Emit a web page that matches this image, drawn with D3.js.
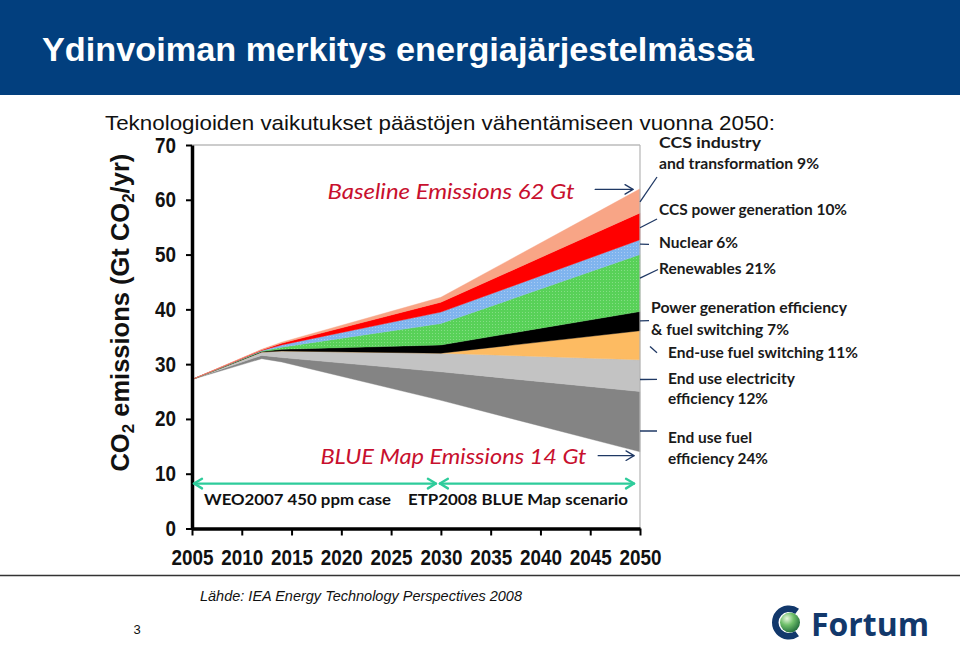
<!DOCTYPE html>
<html>
<head>
<meta charset="utf-8">
<script src="https://cdn.jsdelivr.net/npm/d3@7"></script>
<style>
  html, body { margin: 0; padding: 0; background: #fff; }
  svg { display: block; }
</style>
</head>
<body>
<svg id="chart" width="960" height="645"></svg>
<script>
// ---------------- DATA ----------------
const years = [2005, 2012, 2014, 2030, 2050];
const blueMapEmissions = [27.2, 31.0, 30.4, 23.4, 14.0];          // bottom line (Gt CO2/yr)
// wedge thicknesses, bottom to top (Gt CO2/yr)
const endUseFuelEfficiency   = [0, 0.6, 0.8, 5.2, 11.0];
const endUseElecEfficiency   = [0, 0.6, 1.2, 3.4, 5.8];
const endUseFuelSwitching    = [0, 0.0, 0.0, 0.0, 5.3];
const powerGenEfficiency     = [0, 0.1, 0.3, 1.5, 3.5];
const renewables             = [0, 0.1, 0.4, 3.9, 10.4];
const nuclear                = [0, 0.1, 0.4, 2.1, 2.7];
const ccsPowerGeneration     = [0, 0.1, 0.3, 1.8, 4.9];
const ccsIndustry            = [0, 0.1, 0.2, 0.9, 4.4];

const wedgeKeys = ["fuelEff", "elecEff", "fuelSwitch", "powerGen", "renew", "nuclear", "ccsPower", "ccsInd"];
const wedgeSeries = [endUseFuelEfficiency, endUseElecEfficiency, endUseFuelSwitching, powerGenEfficiency,
                     renewables, nuclear, ccsPowerGeneration, ccsIndustry];
const wedgeColors = ["#848484", "#c3c3c3", "#fdbb62", "#000000", "url(#greenDots)", "url(#blueDots)", "#ff0000", "#f8a586"];

const yTicks = [0, 10, 20, 30, 40, 50, 60, 70];
const xTicks = [2005, 2010, 2015, 2020, 2025, 2030, 2035, 2040, 2045, 2050];

const wedgeLabels = [
  { lines: ["CCS industry", "and transformation 9%"], x: 659, y: 148, dy: 20.5, w: [102, 160], from: 59.6, to: [657, 177] },
  { lines: ["CCS power generation 10%"], x: 659, y: 215, dy: 0, w: [188], from: 54.9, to: [657, 219] },
  { lines: ["Nuclear 6%"], x: 659, y: 248, dy: 0, w: [79], from: 51.9, to: [649, 244.3] },
  { lines: ["Renewables 21%"], x: 659, y: 274, dy: 0, w: [117], from: 45.7, to: [658, 269.5] },
  { lines: ["Power generation efficiency", "& fuel switching 7%"], x: 651, y: 313, dy: 21.5, w: [196, 138], from: 37.9, to: [649, 320.7] },
  { lines: ["End-use fuel switching 11%"], x: 668, y: 358, dy: 0, w: [190], from: 33.2, to: [657, 352.7], offset: 10 },
  { lines: ["End use electricity", "efficiency 12%"], x: 668, y: 384, dy: 20, w: [127, 100], from: 27.2, to: [657, 379.3] },
  { lines: ["End use fuel", "efficiency 24%"], x: 668, y: 443, dy: 21, w: [84, 100], from: 17.8, to: [657, 431] }
];

// ---------------- SETUP ----------------
const svg = d3.select("#chart");
const x = d3.scaleLinear().domain([2005, 2050]).range([192, 640]);
const y = d3.scaleLinear().domain([0, 70]).range([528.5, 145]);
const narrow = "'Liberation Sans Narrow', 'Arial Narrow', 'Liberation Sans', Arial, sans-serif";

const defs = svg.append("defs");
function dots(id, base, dot) {
  const p = defs.append("pattern").attr("id", id).attr("patternUnits", "userSpaceOnUse")
    .attr("width", 3).attr("height", 3);
  p.append("rect").attr("width", 3).attr("height", 3).attr("fill", base);
  p.append("rect").attr("width", 1).attr("height", 1).attr("fill", dot);
}
dots("greenDots", "#58d158", "#84de84");
dots("blueDots", "#80b4ee", "#a8caf4");
const rg = defs.append("radialGradient").attr("id", "sphere").attr("cx", "35%").attr("cy", "30%").attr("r", "75%");
rg.append("stop").attr("offset", "0%").attr("stop-color", "#e8f8e0");
rg.append("stop").attr("offset", "45%").attr("stop-color", "#6fbf6a");
rg.append("stop").attr("offset", "100%").attr("stop-color", "#1f6a3a");

// ---------------- HEADER ----------------
svg.append("rect").attr("x", 0).attr("y", 0).attr("width", 960).attr("height", 95).attr("fill", "#023f7e");
svg.append("text").attr("x", 42).attr("y", 61)
  .attr("font-family", "Liberation Sans, Arial, sans-serif").attr("font-weight", "bold").attr("font-size", 34)
  .attr("fill", "#fff").attr("textLength", 712).attr("lengthAdjust", "spacingAndGlyphs")
  .text("Ydinvoiman merkitys energiajärjestelmässä");
svg.append("text").attr("x", 105).attr("y", 130)
  .attr("font-family", "Liberation Sans, Arial, sans-serif").attr("font-size", 21)
  .attr("fill", "#111").attr("textLength", 670).attr("lengthAdjust", "spacingAndGlyphs")
  .text("Teknologioiden vaikutukset päästöjen vähentämiseen vuonna 2050:");

// ---------------- WEDGES ----------------
const rows = years.map((yr, i) => {
  const r = { year: yr, base: blueMapEmissions[i] };
  wedgeKeys.forEach((k, j) => { r[k] = wedgeSeries[j][i]; });
  return r;
});
const stacked = d3.stack().keys(["base"].concat(wedgeKeys))(rows);
const area = d3.area().x(d => x(d.data.year)).y0(d => y(d[0])).y1(d => y(d[1]));
svg.append("g").selectAll("path").data(stacked.slice(1)).join("path")
  .attr("d", area)
  .attr("fill", (d, i) => wedgeColors[i])
  .attr("stroke", (d, i) => i === 4 ? "#58d158" : (i === 5 ? "#80b4ee" : wedgeColors[i]))
  .attr("stroke-width", 0.4);

// ---------------- FRAME & AXES ----------------
svg.append("line").attr("x1", x(2005)).attr("x2", x(2050)).attr("y1", y(70)).attr("y2", y(70))
  .attr("stroke", "#9a9a9a").attr("stroke-width", 1.2);
svg.append("line").attr("x1", x(2050)).attr("x2", x(2050)).attr("y1", y(70)).attr("y2", y(0))
  .attr("stroke", "#b5b5b5").attr("stroke-width", 1.2);

const yAxis = svg.append("g").attr("transform", `translate(${x(2005)},0)`)
  .call(d3.axisLeft(y).tickValues(yTicks).tickSize(6).tickPadding(10).tickSizeOuter(0));
const xAxis = svg.append("g").attr("transform", `translate(0,${y(0)})`)
  .call(d3.axisBottom(x).tickValues(xTicks).tickFormat(d3.format("d")).tickSize(7).tickPadding(14).tickSizeOuter(0));
[yAxis, xAxis].forEach(g => {
  g.select(".domain").attr("stroke", "#000").attr("stroke-width", 3.5);
  g.selectAll(".tick line").attr("stroke", "#000").attr("stroke-width", 2);
  g.selectAll(".tick text").attr("fill", "#111")
    .attr("font-family", narrow).attr("font-weight", "bold").attr("font-size", 22)
    .attr("textLength", d => String(d).length * 10.5).attr("lengthAdjust", "spacingAndGlyphs");
});

// Y axis title
const yt = svg.append("text").attr("transform", `translate(129,${y(39.4)}) rotate(-90)`)
  .attr("text-anchor", "middle").attr("font-family", narrow)
  .attr("font-weight", "bold").attr("font-size", 25.5).attr("fill", "#111");
yt.append("tspan").text("CO");
yt.append("tspan").attr("font-size", 17).attr("dy", 5).text("2");
yt.append("tspan").attr("dy", -5).text(" emissions (Gt CO");
yt.append("tspan").attr("font-size", 17).attr("dy", 5).text("2");
yt.append("tspan").attr("dy", -5).text("/yr)");

// ---------------- ANNOTATIONS ----------------
const annoFont = "Lato, 'Open Sans', sans-serif";
svg.append("text").attr("x", x(2018.6)).attr("y", y(60.1))
  .attr("font-family", annoFont).attr("font-style", "italic").attr("font-size", 22).attr("fill", "#c8102e")
  .attr("textLength", 247).attr("lengthAdjust", "spacingAndGlyphs").text("Baseline Emissions 62 Gt");
svg.append("text").attr("x", x(2017.9)).attr("y", y(11.8))
  .attr("font-family", annoFont).attr("font-style", "italic").attr("font-size", 22).attr("fill", "#c8102e")
  .attr("textLength", 266).attr("lengthAdjust", "spacingAndGlyphs").text("BLUE Map Emissions 14 Gt");

function arrow(x1, x2, yy, color, w, both, head) {
  const g = svg.append("g").attr("stroke", color).attr("stroke-width", w).attr("fill", "none")
    .attr("stroke-linecap", "round").attr("stroke-linejoin", "round");
  g.append("line").attr("x1", x1).attr("x2", x2).attr("y1", yy).attr("y2", yy);
  g.append("path").attr("d", `M${x2 - head},${yy - head * 0.6}L${x2},${yy}L${x2 - head},${yy + head * 0.6}`);
  if (both) g.append("path").attr("d", `M${x1 + head},${yy - head * 0.6}L${x1},${yy}L${x1 + head},${yy + head * 0.6}`);
}
arrow(x(2045.5), x(2049.3), y(61.9), "#1f3864", 1.3, false, 8);
arrow(x(2045.8), x(2049.4), y(13.3), "#1f3864", 1.3, false, 8);
arrow(x(2005.2), x(2029.5), y(8.2), "#2ecc9b", 2.4, true, 8);
arrow(x(2029.9), x(2049.4), y(8.2), "#2ecc9b", 2.4, true, 8);

svg.append("text").attr("x", 204).attr("y", 505).attr("font-family", annoFont).attr("font-weight", "bold")
  .attr("font-size", 15).attr("fill", "#111").attr("textLength", 187).attr("lengthAdjust", "spacingAndGlyphs")
  .text("WEO2007 450 ppm case");
svg.append("text").attr("x", 408).attr("y", 505).attr("font-family", annoFont).attr("font-weight", "bold")
  .attr("font-size", 15).attr("fill", "#111").attr("textLength", 220).attr("lengthAdjust", "spacingAndGlyphs")
  .text("ETP2008 BLUE Map scenario");

// right-hand wedge labels + leader lines
wedgeLabels.forEach(l => {
  svg.append("line").attr("x1", x(2050) + (l.offset || 0)).attr("y1", y(l.from))
    .attr("x2", l.to[0]).attr("y2", l.to[1]).attr("stroke", "#1f3864").attr("stroke-width", 1.3);
  l.lines.forEach((t, i) => {
    svg.append("text").attr("x", l.x).attr("y", l.y + i * l.dy)
      .attr("font-family", annoFont).attr("font-weight", "bold").attr("font-size", 15).attr("fill", "#1a1a1a")
      .attr("textLength", l.w[i]).attr("lengthAdjust", "spacingAndGlyphs").text(t);
  });
});

// ---------------- FOOTER ----------------
svg.append("line").attr("x1", 0).attr("x2", 960).attr("y1", 575.5).attr("y2", 575.5)
  .attr("stroke", "#333").attr("stroke-width", 1.5);
svg.append("text").attr("x", 200).attr("y", 601)
  .attr("font-family", "Liberation Sans, Arial, sans-serif").attr("font-style", "italic").attr("font-size", 15)
  .attr("fill", "#111").attr("textLength", 322).attr("lengthAdjust", "spacingAndGlyphs")
  .text("Lähde: IEA Energy Technology Perspectives 2008");
svg.append("text").attr("x", 137).attr("y", 634).attr("text-anchor", "middle")
  .attr("font-family", "Liberation Sans, Arial, sans-serif").attr("font-size", 13).attr("fill", "#111").text("3");

// Fortum logo
const logo = svg.append("g");
logo.append("path").attr("transform", "translate(789,622.5)")
  .attr("d", d3.arc().innerRadius(10.5).outerRadius(17).startAngle(0.8 * Math.PI).endAngle(2.2 * Math.PI)())
  .attr("fill", "#12386b");
logo.append("circle").attr("cx", 790).attr("cy", 622.5).attr("r", 10).attr("fill", "url(#sphere)");
logo.append("text").attr("x", 811).attr("y", 636)
  .attr("font-family", "'Open Sans', Lato, sans-serif").attr("font-weight", "bold").attr("font-size", 32)
  .attr("fill", "#12386b").attr("textLength", 118).attr("lengthAdjust", "spacingAndGlyphs").text("Fortum");
</script>
</body>
</html>
